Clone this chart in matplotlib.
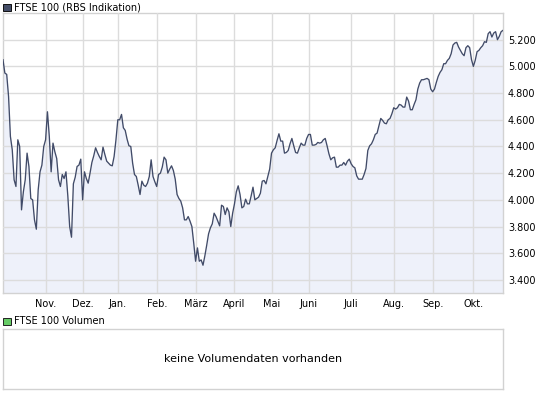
import matplotlib
matplotlib.use("Agg")
import matplotlib.pyplot as plt
from matplotlib.patches import Rectangle
from matplotlib.ticker import FuncFormatter

# ---- data (FTSE 100 daily closes) ----
values = [
    5050, 4950, 4940, 4775, 4475, 4375, 4150, 4100, 4450, 4400,
    3925, 4060, 4150, 4350, 4250, 4010, 4000, 3850, 3780, 4075,
    4210, 4260, 4400, 4450, 4660, 4475, 4210, 4425, 4360, 4310,
    4150, 4100, 4190, 4160, 4210, 4030, 3800, 3720, 4120, 4170,
    4250, 4260, 4305, 4000, 4210, 4160, 4125, 4200, 4280, 4330,
    4390, 4355, 4325, 4300, 4395, 4340, 4290, 4275, 4260, 4255,
    4325, 4450, 4600, 4600, 4640, 4540, 4520, 4455, 4405, 4400,
    4275, 4190, 4175, 4110, 4040, 4140, 4110, 4100, 4125, 4175,
    4300, 4175, 4135, 4100, 4190, 4200, 4245, 4320, 4300, 4200,
    4230, 4255, 4220, 4155, 4040, 4010, 3990, 3940, 3850, 3850,
    3875, 3840, 3800, 3675, 3540, 3640, 3540, 3550, 3510, 3580,
    3660, 3745, 3790, 3820, 3900, 3875, 3840, 3805, 3960, 3950,
    3890, 3940, 3910, 3800, 3900, 3970, 4060, 4105, 4040, 3940,
    3950, 4005, 3970, 3970, 4030, 4095, 4000, 4010, 4020, 4050,
    4140, 4145, 4120, 4175, 4230, 4350, 4375, 4390, 4445, 4495,
    4440, 4440, 4350, 4355, 4370, 4420, 4460, 4405, 4355, 4350,
    4390, 4425, 4410, 4410, 4460, 4490, 4490, 4410, 4410, 4415,
    4430, 4425, 4430, 4450, 4460, 4405, 4345, 4300, 4315, 4320,
    4245, 4245, 4260, 4260, 4280, 4260, 4290, 4305, 4270, 4250,
    4240, 4180, 4155, 4155, 4155, 4190, 4235, 4370, 4405, 4420,
    4450, 4490, 4500, 4555, 4610, 4595, 4575, 4570, 4600, 4610,
    4645, 4690, 4680, 4690, 4715, 4710, 4695, 4695, 4770, 4740,
    4675, 4675, 4715, 4750, 4830, 4875, 4900, 4900, 4905, 4910,
    4900, 4830, 4810, 4830, 4880, 4925, 4955, 4975, 5020, 5020,
    5045, 5060, 5095, 5160, 5175, 5180, 5145, 5120, 5095, 5080,
    5140, 5155, 5140, 5050, 5000, 5045, 5110, 5120, 5140, 5155,
    5185, 5180, 5245, 5260, 5220, 5250, 5260, 5200, 5225, 5260,
    5270,
]
month_labels = ["Nov.", "Dez.", "Jan.", "Feb.", "März", "April",
                "Mai", "Juni", "Juli", "Aug.", "Sep.", "Okt."]
month_start_idx = [23, 43, 62, 83, 104, 125, 145, 165, 188, 211, 232, 254]
y_ticks = [3400, 3600, 3800, 4000, 4200, 4400, 4600, 4800, 5000, 5200]

title_main = "FTSE 100 (RBS Indikation)"
title_vol = "FTSE 100 Volumen"
no_vol_text = "keine Volumendaten vorhanden"

# ---- styling ----
W, H = 545, 395
plt.rcParams["font.family"] = ["DejaVu Sans"]
LINE = "#414b68"
FILL = "#eef1fa"
GRID = "#dcdcdc"
BORDER = "#d2d2d2"

fig = plt.figure(figsize=(W / 100, H / 100), dpi=100)
fig.patch.set_facecolor("white")

def fx(px):
    return px / W

def fy(py):
    return 1 - py / H

# main axes: x 3..503, y 13..293
ax = fig.add_axes([fx(3), fy(293), fx(500), (293 - 13) / H])
x = list(range(len(values)))
ax.fill_between(x, values, 3300, color=FILL, linewidth=0, zorder=1)
ax.plot(x, values, color=LINE, linewidth=0.95, zorder=3)
ax.set_xlim(0, len(values) - 1)
ax.set_ylim(3302, 5400)

ax.set_xticks(month_start_idx)
ax.set_xticklabels(month_labels)
ax.set_yticks(y_ticks)
ax.yaxis.set_major_formatter(FuncFormatter(lambda v, p: f"{v:,.0f}".replace(",", ".")))
ax.yaxis.tick_right()
ax.tick_params(axis="both", length=0, labelsize=7, colors="black")
ax.tick_params(axis="y", pad=3.5)
ax.tick_params(axis="x", pad=4)
ax.grid(True, color=GRID, linewidth=1.0, zorder=2)
ax.set_axisbelow(False)
for ln in ax.get_xgridlines() + ax.get_ygridlines():
    ln.set_zorder(2)
for s in ax.spines.values():
    s.set_color(BORDER)
    s.set_linewidth(1.0)

# top legend
fig.patches.append(Rectangle((fx(3), fy(11)), fx(7.5), 7.5 / H,
                             transform=fig.transFigure, facecolor="#454e68",
                             edgecolor="#111111", linewidth=0.7))
fig.text(fx(14), fy(7.3), title_main, fontsize=7, va="center", ha="left")

# volume legend
fig.patches.append(Rectangle((fx(3), fy(325)), fx(7.5), 7.5 / H,
                             transform=fig.transFigure, facecolor="#66cc66",
                             edgecolor="#222222", linewidth=0.7))
fig.text(fx(14), fy(321.3), title_vol, fontsize=7, va="center", ha="left")

# volume panel
ax2 = fig.add_axes([fx(3), fy(389), fx(500), (389 - 329) / H])
ax2.set_xticks([])
ax2.set_yticks([])
for s in ax2.spines.values():
    s.set_color(BORDER)
    s.set_linewidth(1.0)
ax2.text(0.5, 0.5, no_vol_text, transform=ax2.transAxes, ha="center",
         va="center", fontsize=8)

fig.savefig("out.png", dpi=100, facecolor="white")
